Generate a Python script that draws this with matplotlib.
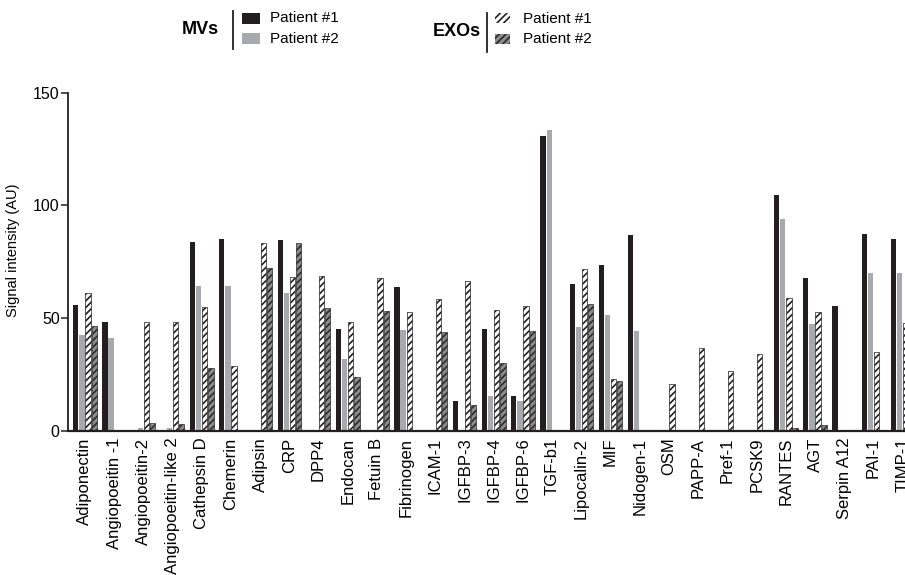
import numpy as np
import matplotlib
matplotlib.use("Agg")
import matplotlib.pyplot as plt
from matplotlib.patches import Rectangle
from matplotlib.transforms import ScaledTranslation

plt.rcParams['font.family'] = ['Liberation Sans', 'DejaVu Sans']
plt.rcParams['hatch.linewidth'] = 1.2

categories = ["Adiponectin", "Angiopoeitin -1", "Angiopoeitin-2", "Angiopoeitin-like 2",
              "Cathepsin D", "Chemerin", "Adipsin", "CRP", "DPP4", "Endocan", "Fetuin B",
              "Fibrinogen", "ICAM-1", "IGFBP-3", "IGFBP-4", "IGFBP-6", "TGF-b1",
              "Lipocalin-2", "MIF", "Nidogen-1", "OSM", "PAPP-A", "Pref-1", "PCSK9",
              "RANTES", "AGT", "Serpin A12", "PAI-1", "TIMP-1"]

mv_p1 = [55.8, 48.2, 0, 0, 83.8, 85.1, 0, 84.6, 0, 45.1, 0, 63.8, 0, 13.3, 45.1, 15.4,
         131.0, 65.1, 73.5, 86.9, 0, 0, 0, 0, 104.6, 67.9, 55.3, 87.3, 85.1]
mv_p2 = [42.5, 41.3, 1.3, 1.3, 64.2, 64.2, 0, 61.3, 0, 32.0, 0, 44.7, 0, 0, 15.4, 13.2,
         133.5, 46.0, 51.4, 44.2, 0, 0, 0, 0, 94.0, 47.5, 0, 70.0, 70.0]
exo_p1 = [61.3, 0, 48.2, 48.2, 54.9, 28.9, 83.3, 68.2, 68.7, 48.2, 67.8, 52.7, 58.5, 66.4,
          53.6, 55.3, 0, 71.8, 23.1, 0, 20.7, 36.7, 26.6, 34.0, 58.9, 52.7, 0, 35.1, 47.9]
exo_p2 = [46.5, 0, 3.6, 3.0, 28.0, 0, 72.2, 83.5, 54.6, 23.8, 53.1, 0, 43.8, 11.4,
          30.0, 44.2, 0, 56.4, 22.1, 0, 0, 0, 0, 0, 1.3, 2.5, 0, 0, 0]

yticks = [0, 50, 100, 150]

BLACK = '#231f20'
GREY = '#a7a9ac'
HATCH = '/////'

fig = plt.figure(figsize=(9.05, 5.75), dpi=100)
ax = fig.add_axes([68/905, 144.3/575, 1 - 68/905, 338/575])

x = np.arange(len(categories))
slot = 0.21
w = 0.18
ax.bar(x - 1.5*slot, mv_p1, w, color=BLACK, linewidth=0)
ax.bar(x - 0.5*slot, mv_p2, w, color=GREY, linewidth=0)
ax.bar(x + 0.5*slot, exo_p1, w, facecolor='white', edgecolor=BLACK, hatch=HATCH, linewidth=0.5)
ax.bar(x + 1.5*slot, exo_p2, w, facecolor='#8c8c8c', edgecolor='#2a2a2a', hatch=HATCH, linewidth=0.5)

ax.set_xlim(-0.58, 28.08)
ax.set_ylim(0, 150)
ax.set_yticks(yticks)
ax.set_yticklabels([str(t) for t in yticks], fontsize=11.5)
ax.set_xticks(x)
ax.set_xticklabels(categories, rotation=90, fontsize=12)
offset = ScaledTranslation(3/100, 0, fig.dpi_scale_trans)
for lab in ax.get_xticklabels():
    lab.set_transform(lab.get_transform() + offset)
ax.tick_params(axis='x', length=0, pad=5)
ax.tick_params(axis='y', length=5, width=1.1, pad=1, color=BLACK)
for s in ['top', 'right']:
    ax.spines[s].set_visible(False)
ax.spines['left'].set_linewidth(1.3)
ax.spines['bottom'].set_linewidth(1.6)
ax.spines['left'].set_color(BLACK)
ax.spines['bottom'].set_color(BLACK)
ax.set_ylabel("Signal intensity (AU)", fontsize=10.5)
ax.yaxis.set_label_coords(-0.0573, 0.535)

# legend overlay in pixel coordinates
lg = fig.add_axes([0, 0, 1, 1], zorder=5)
lg.set_xlim(0, 905)
lg.set_ylim(575, 0)
lg.axis('off')
lg.patch.set_alpha(0)

lg.text(219, 30, "MVs", fontsize=13, fontweight='bold', ha='right', va='center')
lg.plot([233, 233], [11, 49], color=BLACK, lw=1.3)
lg.add_patch(Rectangle((241.5, 12.5), 18, 11, facecolor=BLACK, linewidth=0))
lg.add_patch(Rectangle((241.5, 33), 18, 11, facecolor=GREY, linewidth=0))
lg.text(270, 18, "Patient #1", fontsize=11, ha='left', va='center')
lg.text(270, 39, "Patient #2", fontsize=11, ha='left', va='center')

lg.text(481, 31, "EXOs", fontsize=13, fontweight='bold', ha='right', va='center')
lg.plot([487, 487], [13, 52], color=BLACK, lw=1.3)
lg.add_patch(Rectangle((495, 13), 15, 10, facecolor='white', edgecolor=BLACK, hatch=HATCH, linewidth=0))
lg.add_patch(Rectangle((495, 33.5), 15, 10, facecolor='#8c8c8c', edgecolor='#2a2a2a', hatch=HATCH, linewidth=0))
lg.text(523, 19, "Patient #1", fontsize=11, ha='left', va='center')
lg.text(523, 39, "Patient #2", fontsize=11, ha='left', va='center')

fig.savefig("out.png", dpi=100)
